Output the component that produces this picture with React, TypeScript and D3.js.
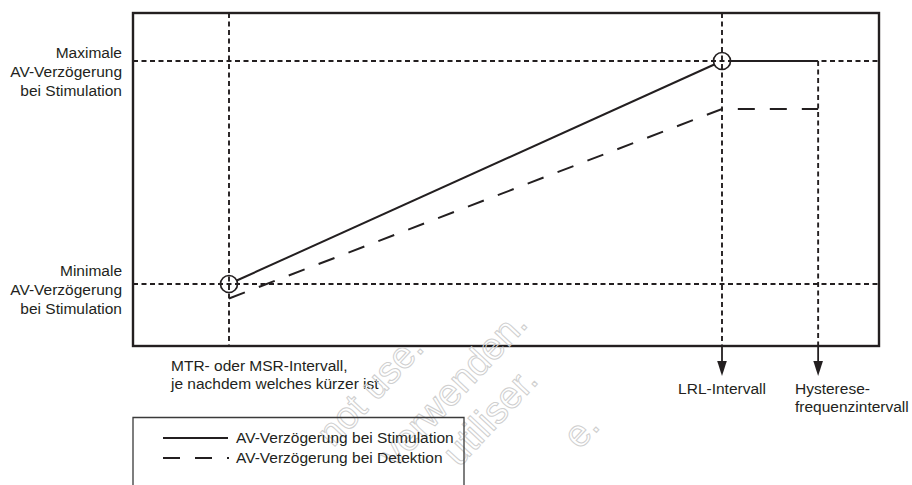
import React from "react";
import * as d3 from "d3";

// Abstract interval axis (x) and AV-delay axis (y)
const xTicks = ["MTR", "LRL", "HYST"];
const xTickValues = [1, 3, 3.39];
const yLevels = ["min", "max"];
const yLevelValues = [1, 2];
const stimulationSeries = [
  { x: 1, y: 1 },
  { x: 3, y: 2 },
  { x: 3.39, y: 2 },
];
const detectionSeries = [
  { x: 1, y: 0.935 },
  { x: 3, y: 1.785 },
  { x: 3.39, y: 1.785 },
];
const yLabelsMax = ["Maximale", "AV-Verzögerung", "bei Stimulation"];
const yLabelsMin = ["Minimale", "AV-Verzögerung", "bei Stimulation"];
const xLabelMtr = ["MTR- oder MSR-Intervall,", "je nachdem welches kürzer ist"];
const xLabelLrl = ["LRL-Intervall"];
const xLabelHyst = ["Hysterese-", "frequenzintervall"];
const legendItems = ["AV-Verzögerung bei Stimulation", "AV-Verzögerung bei Detektion"];
const watermarks = [
  { text: "not use.", cx: 372, cy: 392 },
  { text: "verwenden.", cx: 455, cy: 390 },
  { text: "utiliser.", cx: 492, cy: 418 },
  { text: "e.", cx: 583, cy: 432 },
];

const W = 912;
const H = 485;
const frame = { left: 133, right: 879, top: 13, bottom: 346 };
const FONT = "'Liberation Sans', Arial, sans-serif";
const INK = "#231f20";

export default function App() {
  const xs = d3.scaleLinear().domain([1, 3]).range([229, 722]);
  const y = d3.scaleLinear().domain([1, 2]).range([284, 61]);

  const r = 8.5;
  const pStim = stimulationSeries.map((d) => [xs(d.x), y(d.y)] as [number, number]);
  const pDet = detectionSeries.map((d) => [xs(d.x), y(d.y)] as [number, number]);

  const trim = (a: [number, number], b: [number, number], ra: number, rb: number) => {
    const dx = b[0] - a[0];
    const dy = b[1] - a[1];
    const L = Math.hypot(dx, dy);
    return [
      [a[0] + (dx / L) * ra, a[1] + (dy / L) * ra],
      [b[0] - (dx / L) * rb, b[1] - (dy / L) * rb],
    ] as [number, number][];
  };
  const seg1 = trim(pStim[0], pStim[1], r, r);
  const seg2 = trim(pStim[1], pStim[2], r, 0);
  const line = d3.line();

  const xMtr = xs(xTickValues[0]);
  const xLrl = xs(xTickValues[1]);
  const xHyst = xs(xTickValues[2]);
  const yMin = y(yLevelValues[0]);
  const yMax = y(yLevelValues[1]);

  const dot = "5 3.5";
  const arrowTip = 376;
  const arrowBase = 361;
  const fs = 15.5;

  return (
    <svg width={W} height={H} style={{ position: "absolute", left: 0, top: 0 }} fontFamily={FONT}>
      <rect x={0} y={0} width={W} height={H} fill="#fff" />

      {/* dotted guide lines */}
      <g stroke={INK} strokeWidth={1.9} strokeDasharray={dot} fill="none">
        <line x1={frame.left} x2={frame.right} y1={yMax} y2={yMax} />
        <line x1={frame.left} x2={frame.right} y1={yMin} y2={yMin} />
        <line x1={xMtr} x2={xMtr} y1={frame.top} y2={frame.bottom} />
        <line x1={xLrl} x2={xLrl} y1={frame.top} y2={frame.bottom} />
        <line x1={xHyst} x2={xHyst} y1={yMax} y2={frame.bottom} />
      </g>

      {/* detection series (dashed) */}
      <path d={line(pDet) || ""} fill="none" stroke={INK} strokeWidth={2} strokeDasharray="17 15" />

      {/* stimulation series (solid) */}
      <path d={line(seg1) || ""} fill="none" stroke={INK} strokeWidth={2} />
      <path d={line(seg2) || ""} fill="none" stroke={INK} strokeWidth={2} />
      <circle cx={pStim[0][0]} cy={pStim[0][1]} r={r} fill="none" stroke={INK} strokeWidth={1.7} />
      <circle cx={pStim[1][0]} cy={pStim[1][1]} r={r} fill="none" stroke={INK} strokeWidth={1.7} />

      {/* frame */}
      <rect
        x={frame.left}
        y={frame.top}
        width={frame.right - frame.left}
        height={frame.bottom - frame.top}
        fill="none"
        stroke={INK}
        strokeWidth={2.4}
      />

      {/* arrows */}
      {[xLrl, xHyst].map((ax, i) => (
        <g key={i}>
          <line x1={ax} x2={ax} y1={frame.bottom} y2={arrowBase + 1} stroke={INK} strokeWidth={1.8} />
          <path d={`M${ax - 4.8},${arrowBase} L${ax + 4.8},${arrowBase} L${ax},${arrowTip} Z`} fill={INK} />
        </g>
      ))}

      {/* y labels */}
      <g fontSize={fs} fill={INK} textAnchor="end">
        {yLabelsMax.map((t, i) => (
          <text key={"mx" + i} x={122} y={yMax - 3 + i * 19}>
            {t}
          </text>
        ))}
        {yLabelsMin.map((t, i) => (
          <text key={"mn" + i} x={122} y={yMin - 8 + i * 19}>
            {t}
          </text>
        ))}
      </g>

      {/* x labels */}
      <g fontSize={fs} fill={INK}>
        {xLabelMtr.map((t, i) => (
          <text key={"mt" + i} x={171} y={371 + i * 18}>
            {t}
          </text>
        ))}
        {xLabelLrl.map((t, i) => (
          <text key={"lr" + i} x={xLrl} y={394 + i * 18} textAnchor="middle">
            {t}
          </text>
        ))}
        {xLabelHyst.map((t, i) => (
          <text key={"hy" + i} x={795} y={394 + i * 18}>
            {t}
          </text>
        ))}
      </g>

      {/* watermark */}
      <g fontSize={38} fill="none" stroke="#cfcfcf" strokeWidth={1} textAnchor="middle">
        {watermarks.map((w, i) => (
          <text key={i} x={w.cx} y={w.cy} transform={`rotate(-47 ${w.cx} ${w.cy})`} dominantBaseline="middle">
            {w.text}
          </text>
        ))}
      </g>

      {/* legend */}
      <g>
        <path d={`M${frame.left},${H + 2} L${frame.left},417.5 L464,417.5 L464,${H + 2}`} fill="none" stroke="#3a3a3a" strokeWidth={1.3} />
        <line x1={163} x2={228} y1={438} y2={438} stroke={INK} strokeWidth={2} />
        <line x1={163} x2={229} y1={458} y2={458} stroke={INK} strokeWidth={2} strokeDasharray="17 15" />
        {legendItems.map((t, i) => (
          <text key={i} x={236} y={443 + i * 20} fontSize={fs} fill={INK}>
            {t}
          </text>
        ))}
      </g>
    </svg>
  );
}
